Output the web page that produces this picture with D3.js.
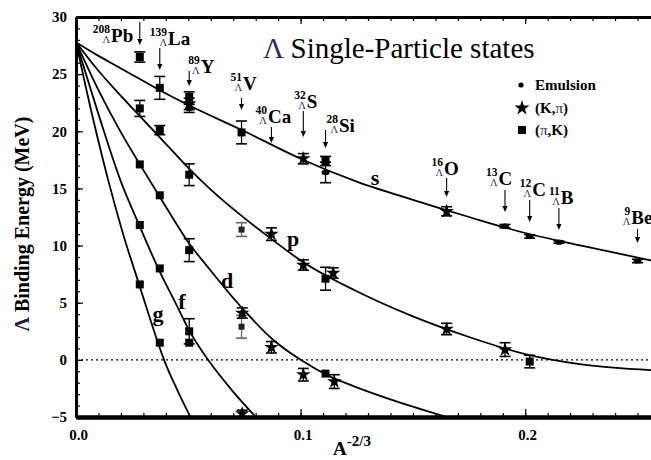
<!DOCTYPE html>
<html><head><meta charset="utf-8">
<script src="https://cdn.jsdelivr.net/npm/d3@7"></script>
<style>
html,body{margin:0;padding:0;background:#fff;}
svg{display:block;}
text{font-family:"Liberation Serif","Times New Roman",serif;}
</style></head><body>
<svg id="chart" width="651" height="460"></svg>
<script>
// ---------- DATA ----------
const xTicks = [0.0, 0.1, 0.2];
const yTicks = [-5, 0, 5, 10, 15, 20, 25, 30];

// calculated single-particle curves
const sX = [0, 0.01, 0.02, 0.03, 0.04, 0.05, 0.075, 0.1, 0.125, 0.15, 0.175, 0.2, 0.225, 0.256];
const sB = [27.8, 26.6, 25.5, 24.4, 23.3, 22.3, 20.0, 17.6, 15.6, 14.0, 12.5, 11.1, 10.0, 8.7];
const pX = [0, 0.01, 0.02, 0.03, 0.04, 0.05, 0.06, 0.075, 0.0875, 0.1, 0.125, 0.15, 0.175, 0.2, 0.225, 0.256];
const pB = [27.8, 25.3, 23.1, 21.0, 18.9, 16.8, 14.9, 12.4, 10.5, 8.7, 6.0, 3.8, 2.0, 0.5, -0.4, -0.9];
const dX = [0, 0.01, 0.02, 0.03, 0.04, 0.05, 0.06, 0.075, 0.0875, 0.1, 0.1125, 0.125, 0.15, 0.17];
const dB = [27.8, 23.6, 19.9, 16.6, 13.4, 10.3, 7.8, 4.3, 1.8, 0.0, -1.4, -2.4, -4.1, -5.3];
const fX = [0, 0.01, 0.02, 0.0281, 0.0365, 0.045, 0.0503, 0.0588, 0.07, 0.082];
const fB = [27.8, 21.5, 15.6, 11.8, 8.05, 4.7, 2.6, 0.0, -2.8, -5.4];
const gX = [0, 0.007, 0.0143, 0.021, 0.0281, 0.0365, 0.0392, 0.045, 0.052];
const gB = [27.8, 21.6, 15.75, 11.0, 6.6, 1.5, 0.0, -2.6, -5.4];
const curveNames = ["s", "p", "d", "f", "g"];

// (pi,K) data: squares
const piKx = [0.0284,0.0284,0.0284,0.0284,0.0284, 0.0373,0.0373,0.0373,0.0373,0.0373,
              0.0504,0.0504,0.0504,0.0504,0.0504, 0.0737,0.0737,0.0737, 0.1111,0.1111,0.1111, 0.202];
const piKy = [26.5,22.0,17.1,11.8,6.6, 23.8,20.1,14.4,8.0,1.5,
              23.0,16.2,9.6,2.5,1.5, 19.9,11.4,2.9, 17.4,7.1,-1.2, -0.15];
const piKerr = [0.45,0.7,0,0,0, 1.0,0.4,0,0,0,
                0.45,0.95,1.0,1.1,0, 1.0,0.6,1.0, 0.4,1.0,0, 0.55];
// (K,pi) data: stars
const Kpix = [0.0504, 0.0740, 0.0740, 0.087, 0.087, 0.1012, 0.1012, 0.1012, 0.1145, 0.115, 0.165, 0.165, 0.191];
const Kpiy = [22.4, 4.1, -4.7, 11.0, 1.1, 17.6, 8.3, -1.3, 7.6, -1.9, 13.0, 2.7, 0.9];
const Kpierr = [0.5, 0.45, 0.3, 0.55, 0.5, 0.45, 0.45, 0.55, 0.45, 0.6, 0.4, 0.5, 0.6];
// Emulsion data: dots
const emulX = [0.0504, 0.1111, 0.191, 0.202, 0.215, 0.25];
const emulY = [22.0, 16.4, 11.7, 10.8, 10.3, 8.65];
const emulErr = [0.35, 0.9, 0.15, 0.15, 0.1, 0.15];

// hypernucleus labels
const nucA  = ["208","139","89","51","40","32","28","16","13","12","11","9"];
const nucEl = ["Pb","La","Y","V","Ca","S","Si","O","C","C","B","Be"];
const nucX  = [0.0284,0.0373,0.0504,0.0737,0.0870,0.1012,0.1111,0.165,0.191,0.202,0.215,0.25];
const nucArrowB = [27.55,25.36,23.96,21.86,18.98,19.5,18.54,14.25,12.94,12.06,11.36,10.23];

const legendLabels = ["Emulsion", "(K,\u03C0)", "(\u03C0,K)"];
const titleText = "Single-Particle states";

// ---------- LAYOUT ----------
const NAVY = "#2b2b6b";
const svg = d3.select("#chart");
const x = d3.scaleLinear().domain([0, 0.256]).range([76, 651]);
const y = d3.scaleLinear().domain([-5, 30]).range([417, 17]);

svg.append("defs").append("clipPath").attr("id","plot")
  .append("rect").attr("x",76).attr("y",17).attr("width",575).attr("height",400);

// zero dotted line
svg.append("line").attr("x1",x(0)).attr("x2",x(0.256)).attr("y1",y(0)).attr("y2",y(0))
  .attr("stroke","#000").attr("stroke-width",1.4).attr("stroke-dasharray","2,3");

// curves
const line = d3.line().x(d=>x(d[0])).y(d=>y(d[1])).curve(d3.curveMonotoneX);
const curveData = [[sX,sB],[pX,pB],[dX,dB],[fX,fB],[gX,gB]];
const cg = svg.append("g").attr("clip-path","url(#plot)");
curveData.forEach(([xs,bs])=>{
  cg.append("path").datum(xs.map((v,i)=>[v,bs[i]])).attr("d",line)
    .attr("fill","none").attr("stroke","#000").attr("stroke-width",1.8);
});

// curve labels
const curveLabelPos = [[375,185],[293,246],[227,288],[182,309],[158,321]];
curveNames.forEach((n,i)=>{
  svg.append("text").attr("x",curveLabelPos[i][0]).attr("y",curveLabelPos[i][1])
    .attr("text-anchor","middle").attr("font-size",22).attr("font-weight","bold").text(n);
});

// data points
const pg = svg.append("g").attr("clip-path","url(#plot)");
const greyIdx = new Set([16,17]);
function errBars(xs, ys, es, colorFn){
  xs.forEach((xv,i)=>{
    const e = es[i]; if(!e) return;
    const cx = x(xv), y1 = y(ys[i]+e), y2 = y(ys[i]-e), c = colorFn(i);
    pg.append("line").attr("x1",cx).attr("x2",cx).attr("y1",y1).attr("y2",y2).attr("stroke",c).attr("stroke-width",1.3);
    [y1,y2].forEach(yy=>pg.append("line").attr("x1",cx-5.5).attr("x2",cx+5.5).attr("y1",yy).attr("y2",yy)
      .attr("stroke",c).attr("stroke-width",1.6));
  });
}
errBars(piKx, piKy, piKerr, i=> greyIdx.has(i) ? "#666" : "#000");
errBars(Kpix, Kpiy, Kpierr, ()=>"#000");
errBars(emulX, emulY, emulErr, ()=>"#000");

piKx.forEach((xv,i)=>{
  const s = greyIdx.has(i) ? 6 : 8;
  pg.append("rect").attr("x",x(xv)-s/2).attr("y",y(piKy[i])-s/2).attr("width",s).attr("height",s)
    .attr("fill", greyIdx.has(i) ? "#222" : "#000");
});
const star = d3.symbol().type(d3.symbolStar).size(65);
Kpix.forEach((xv,i)=>{
  pg.append("path").attr("d",star).attr("transform",`translate(${x(xv)},${y(Kpiy[i])})`).attr("fill","#000");
});
emulX.forEach((xv,i)=>{
  pg.append("ellipse").attr("cx",x(xv)).attr("cy",y(emulY[i])).attr("rx",4).attr("ry",2.6).attr("fill","#000");
});

// axes
function styleAxis(g, w){
  g.select(".domain").attr("stroke","#000").attr("stroke-width",w);
  g.selectAll(".tick line").attr("stroke","#000").attr("stroke-width",1.2);
  g.selectAll("text").attr("font-family","'Liberation Serif',serif").attr("font-size",15)
    .attr("font-weight","bold").attr("fill","#000");
}
const minorX = d3.range(0, 0.2561, 0.01);
const minorY = d3.range(-5, 30.01, 1);
let g;
// bottom
g = svg.append("g").attr("transform","translate(0,417)")
  .call(d3.axisBottom(x).tickValues(minorX).tickSize(-4).tickSizeOuter(0).tickFormat(""));
styleAxis(g,4);
g = svg.append("g").attr("transform","translate(0,417)")
  .call(d3.axisBottom(x).tickValues(xTicks).tickSize(-8).tickSizeOuter(0).tickPadding(12).tickFormat(d3.format(".1f")));
styleAxis(g,4);
g.selectAll("text").attr("dx",2);
// top
g = svg.append("g").attr("transform","translate(0,17)")
  .call(d3.axisTop(x).tickValues(minorX).tickSize(-4).tickSizeOuter(0).tickFormat(""));
styleAxis(g,3);
g = svg.append("g").attr("transform","translate(0,17)")
  .call(d3.axisTop(x).tickValues(xTicks).tickSize(-7).tickSizeOuter(0).tickFormat(""));
styleAxis(g,3);
// left
g = svg.append("g").attr("transform","translate(76,0)")
  .call(d3.axisLeft(y).tickValues(minorY).tickSize(-4).tickSizeOuter(0).tickFormat(""));
styleAxis(g,3);
g = svg.append("g").attr("transform","translate(76,0)")
  .call(d3.axisLeft(y).tickValues(yTicks).tickSize(-7).tickSizeOuter(0).tickPadding(9).tickFormat(d3.format("d")));
styleAxis(g,3);

// axis titles
const xt = svg.append("text").attr("x",333).attr("y",455).attr("font-weight","bold");
xt.append("tspan").attr("font-size",19).text("A");
xt.append("tspan").attr("font-size",15).attr("dy",-9).text("-2/3");
const yt = svg.append("text").attr("transform","translate(29,224) rotate(-90)")
  .attr("text-anchor","middle").attr("font-size",20).attr("font-weight","bold");
yt.append("tspan").attr("fill","#1e1e40").text("\u039B ");
yt.append("tspan").text("Binding Energy (MeV)");

// title
const tt = svg.append("text").attr("x",263).attr("y",58).attr("font-size",29);
tt.append("tspan").attr("fill",NAVY).text("\u039B ");
tt.append("tspan").text(titleText);

// legend
const lg = svg.append("g");
const legY = [85, 108, 130];
lg.append("circle").attr("cx",521).attr("cy",legY[0]).attr("r",2.6).attr("fill","#000");
lg.append("path").attr("d",d3.symbol().type(d3.symbolStar).size(70)).attr("transform",`translate(522,${legY[1]})`);
lg.append("rect").attr("x",518).attr("y",legY[2]-4).attr("width",8).attr("height",8);
legendLabels.forEach((t,i)=>{
  const tx = lg.append("text").attr("x",535).attr("y",legY[i]+5).attr("font-size",15).attr("font-weight","bold");
  t.split(/(\u03C0)/).forEach(part=>{
    if(!part) return;
    const ts = tx.append("tspan").text(part);
    if(part === "\u03C0") ts.attr("fill",NAVY).attr("font-weight","normal");
  });
});

// hypernucleus labels with arrows: [label dx from arrow, baseline dy from arrow top, arrow length]
const nucLayout = [[-47,20,23],[-10,-3,22],[-1,2,15],[-11,-8,12],[-16,-4,16],[-9,-3,26],
                   [1,2,18],[-15,-3,19],[-19,-5,22],[-10,-4,22],[-10,-4,22],[-13,-5,14]];
const ng = svg.append("g");
nucA.forEach((a,i)=>{
  const ax = x(nucX[i]), yb = y(nucArrowB[i]), [ldx, ldy, alen] = nucLayout[i];
  const yt0 = yb - alen;
  ng.append("line").attr("x1",ax).attr("x2",ax).attr("y1",yt0).attr("y2",yb-4)
    .attr("stroke","#000").attr("stroke-width",1.1);
  ng.append("path").attr("d",`M${ax},${yb} l-2.6,-6 l5.2,0 z`).attr("fill","#000");
  const lab = ng.append("g").attr("transform",`translate(${ax+ldx},${yt0+ldy})`);
  const sup = lab.append("text").attr("x",0).attr("y",-9).attr("font-size",11.5).attr("font-weight","bold").text(a);
  const w = sup.node().getComputedTextLength();
  lab.append("text").attr("x",w).attr("y",1).attr("text-anchor","end").attr("font-size",10.5)
    .attr("fill",NAVY).text("\u039B");
  lab.append("text").attr("x",w+1).attr("y",0).attr("font-size",19).attr("font-weight","bold").text(nucEl[i]);
});
</script>
</body></html>
